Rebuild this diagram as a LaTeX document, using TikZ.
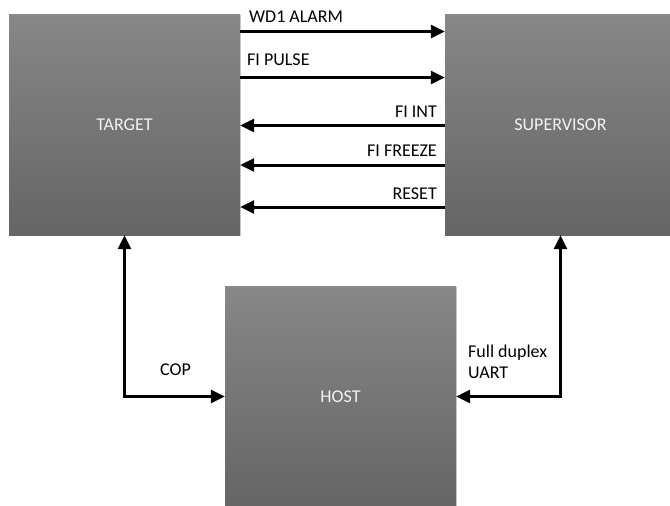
\documentclass[tikz,border=0pt]{standalone}
\usepackage{fontspec}
\setmainfont{Carlito}
\usetikzlibrary{arrows.meta,shadows}

\definecolor{boxtop}{RGB}{135,135,135}
\definecolor{boxbot}{RGB}{101,101,101}
\definecolor{boxtext}{RGB}{242,242,242}

\tikzset{
    block/.style={minimum width=231pt, minimum height=221pt, inner sep=0pt,
        top color=boxtop, bottom color=boxbot, text=boxtext,
        font=\fontsize{18}{21}\selectfont,
        drop shadow={shadow xshift=0.8pt, shadow yshift=-1.2pt, opacity=0.35}},
    sig/.style={line width=3pt, -{Triangle[length=14pt,width=13pt]}},
    duplex/.style={line width=3pt, {Triangle[length=14pt,width=13pt]}-{Triangle[length=14pt,width=13pt]}},
    lbl/.style={inner sep=0pt, font=\fontsize{18}{20.5}\selectfont}
}

\begin{document}
\begin{tikzpicture}[x=1pt, y=-1pt]
    \useasboundingbox (0,0) rectangle (670,506);

    \node[block] (target) at (124.5,124.5) {TARGET};
    \node[block] (super) at (560.5,124.5) {SUPERVISOR};
    \node[block] (host) at (340.5,396.5) {HOST};

    \coordinate (ya) at (0,31.5);
    \coordinate (yb) at (0,77.5);
    \coordinate (yc) at (0,125.5);
    \coordinate (yd) at (0,165);
    \coordinate (ye) at (0,207);

    \draw[sig] (target.east |- ya) -- (super.west |- ya);
    \draw[sig] (target.east |- yb) -- (super.west |- yb);
    \draw[sig] (super.west |- yc) -- (target.east |- yc);
    \draw[sig] (super.west |- yd) -- (target.east |- yd);
    \draw[sig] (super.west |- ye) -- (target.east |- ye);

    \node[lbl, anchor=base west] (wdalarm) at (249,22.5) {WD1 ALARM};
    \node[lbl, anchor=base west] (fipulse) at (247,65.5) {FI PULSE};
    \node[lbl, anchor=base east] (fiint) at (437,117) {FI INT};
    \node[lbl, anchor=base east] (fifreeze) at (437,156.5) {FI FREEZE};
    \node[lbl, anchor=base east] (reset) at (437,199) {RESET};

    \draw[duplex] (target.south) |- (host.west);
    \draw[duplex] (super.south) |- (host.east);

    \node[lbl, anchor=base west] (cop) at (160,375.5) {COP};
    \node[lbl, anchor=north west, align=left] (uart) at (468,345) {Full duplex\\UART};
\end{tikzpicture}
\end{document}
